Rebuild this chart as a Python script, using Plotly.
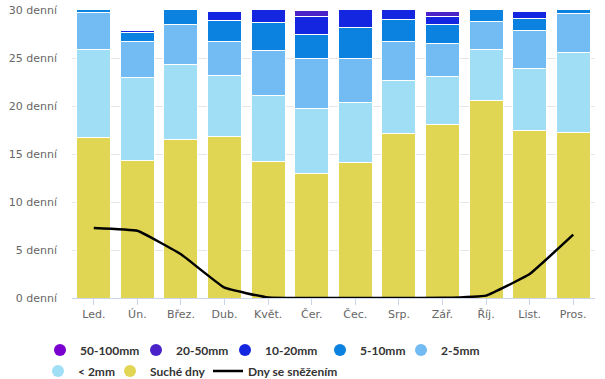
import plotly.graph_objects as go

months = ["Led.", "Ún.", "Břez.", "Dub.", "Květ.", "Čer.", "Čec.", "Srp.", "Zář.", "Říj.", "List.", "Pros."]

dry      = [16.7, 14.3, 16.5, 16.8, 14.2, 13.0, 14.1, 17.15, 18.1, 20.6, 17.45, 17.25]
lt2      = [9.2, 8.65, 7.8, 6.35, 6.9, 6.7, 6.3, 5.5, 4.95, 5.3, 6.5, 8.35]
mm2_5    = [3.8, 3.75, 4.2, 3.55, 4.65, 5.2, 4.55, 4.1, 3.45, 2.95, 3.95, 4.05]
mm5_10   = [1.3, 1.0, 2.5, 2.2, 2.95, 2.5, 3.2, 2.25, 2.0, 2.15, 1.2, 1.35]
mm10_20  = [0.0, 0.2, 0.0, 0.95, 2.3, 1.9, 2.85, 2.0, 0.8, 0.0, 0.7, 0.0]
mm20_50  = [0.0, 0.1, 0.0, 0.15, 0.0, 0.6, 0.0, 0.0, 0.5, 0.0, 0.2, 0.0]
mm50_100 = [0.0, 0.0, 0.0, 0.0, 0.0, 0.1, 0.0, 0.0, 0.2, 0.0, 0.0, 0.0]
snow     = [7.3, 7.0, 4.55, 1.07, 0.05, 0.0, 0.0, 0.0, 0.02, 0.25, 2.5, 6.6]

series = [
    ("Suché dny", dry, "#e0d654"),
    ("< 2mm", lt2, "#a0def5"),
    ("2-5mm", mm2_5, "#72bcf3"),
    ("5-10mm", mm5_10, "#0c82e0"),
    ("10-20mm", mm10_20, "#1426e0"),
    ("20-50mm", mm20_50, "#4a22c8"),
    ("50-100mm", mm50_100, "#7a00d0"),
]
colors = {n: c for n, _, c in series}
snow_name = "Dny se sněžením"

# legend layout: (name, legend id, left px, row center px)
legend_items = [
    ("50-100mm", "legend", 40, 350),
    ("20-50mm", "legend2", 136, 350),
    ("10-20mm", "legend3", 225, 350),
    ("5-10mm", "legend4", 320, 350),
    ("2-5mm", "legend5", 401, 350),
    ("< 2mm", "legend6", 38, 371),
    ("Suché dny", "legend7", 110, 371),
    (snow_name, "legend8", 208, 371),
]

W, H = 605, 379
ML, MR, MT, MB = 72, 10, 10, 81
PW, PH = W - ML - MR, H - MT - MB

fig = go.Figure()
for name, vals, col in series:
    fig.add_trace(go.Bar(x=months, y=vals, name=name,
                         marker=dict(color=col, line=dict(color="white", width=1)),
                         showlegend=False))

legfont = dict(family="Lato, DejaVu Sans, sans-serif", size=12, color="#333333", weight="bold")
legend_layout = {}
for name, lid, lx, ly in legend_items:
    if name != snow_name:
        fig.add_trace(go.Scatter(x=[None], y=[None], mode="markers", name=name, legend=lid,
                                 marker=dict(color=colors[name], size=12, symbol="circle")))
    legend_layout[lid] = dict(orientation="h", x=(lx - ML) / PW, xanchor="left",
                              y=(H - MB - ly) / PH, yanchor="middle", font=legfont,
                              bgcolor="rgba(0,0,0,0)", borderwidth=0, traceorder="normal")

fig.add_trace(go.Scatter(x=months, y=snow, mode="lines", name=snow_name, legend="legend8",
                         line=dict(color="black", width=2.5, shape="spline", smoothing=0.3)))

fig.update_layout(
    width=W, height=H,
    margin=dict(l=ML, r=MR, t=MT, b=MB, autoexpand=False),
    barmode="stack", bargap=0.22,
    plot_bgcolor="white", paper_bgcolor="white",
    font=dict(family="DejaVu Sans, sans-serif", size=11, color="#666666"),
    xaxis=dict(showline=True, linecolor="#ccd6eb", linewidth=1, ticks="outside", ticklen=6,
               tickcolor="#ccd6eb", showgrid=False, tickfont=dict(size=11, color="#666666")),
    yaxis=dict(range=[0, 30], dtick=5, ticksuffix=" denní", showgrid=True, gridcolor="#e6e6e6",
               zeroline=False, ticklabelstandoff=14, tickfont=dict(size=11, color="#666666")),
    **legend_layout,
)

fig.write_html("out.html", config={"displayModeBar": False},
               post_script="document.body.style.margin='0';document.body.style.overflow='hidden';")
